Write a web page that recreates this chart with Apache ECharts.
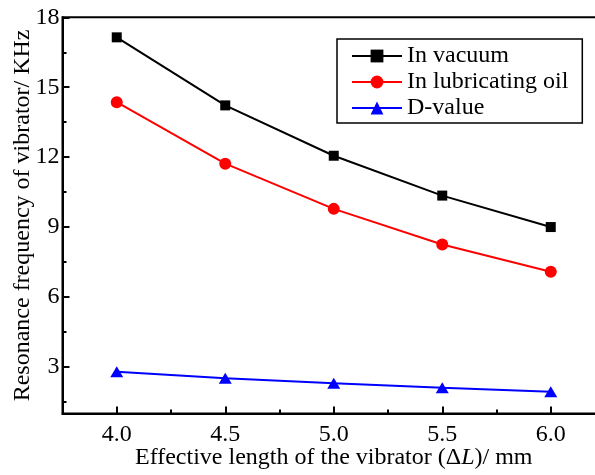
<!DOCTYPE html>
<html>
<head>
<meta charset="utf-8">
<script src="https://cdn.jsdelivr.net/npm/echarts@6/dist/echarts.min.js"></script>
<style>
html,body{margin:0;padding:0;background:#fff;}
#c{width:595px;height:475px;}
</style>
</head>
<body>
<div id="c"></div>
<script>
// ---- data ----
const lengths = [4.0, 4.5, 5.0, 5.5, 6.0];
const inVacuum = [17.14, 14.22, 12.06, 10.35, 9.0];
const inOil = [14.36, 11.72, 9.78, 8.25, 7.08];
const dValue = [2.79, 2.51, 2.3, 2.11, 1.93];
const seriesNames = ['In vacuum', 'In lubricating oil', 'D-value'];
const xTicks = [4.0, 4.5, 5.0, 5.5, 6.0];
const xMinorTicks = [4.25, 4.75, 5.25, 5.75];
const yTicks = [3, 6, 9, 12, 15, 18];
const yMinorTicks = [1.5, 4.5, 7.5, 10.5, 13.5, 16.5];
const xRange = [3.75, 6.25];
const yRange = [1, 18];

const FONT = 'Liberation Serif';
const chart = echarts.init(document.getElementById('c'), null, {renderer: 'canvas'});

function pairs(ys) { return lengths.map((x, i) => [x, ys[i]]); }

const axisLine = {show: true, lineStyle: {color: '#000', width: 2}};

chart.setOption({
  animation: false,
  backgroundColor: '#fff',
  grid: {
    left: 62.5, top: 17.3, right: -10, bottom: 61.5,
    containLabel: false, outerBoundsMode: 'none',
    show: true, borderColor: '#000', borderWidth: 2, backgroundColor: 'transparent'
  },
  legend: {
    orient: 'vertical',
    left: 337, top: 39,
    padding: [5, 14, 3, 14],
    itemGap: 2,
    itemWidth: 50,
    itemHeight: 16,
    borderColor: '#000', borderWidth: 1.5,
    textStyle: {fontFamily: FONT, fontSize: 24, color: '#000'},
    data: seriesNames
  },
  xAxis: [{
    type: 'value', min: xRange[0], max: xRange[1], position: 'bottom',
    axisLine: axisLine,
    splitLine: {show: false},
    axisTick: {show: true, inside: true, length: 7, customValues: xTicks, lineStyle: {color: '#000', width: 2}},
    axisLabel: {show: true, customValues: xTicks, margin: 9, formatter: v => v.toFixed(1),
      fontFamily: FONT, fontSize: 24, color: '#000'},
    name: 'Effective length of the vibrator ({n|Δ}{i|L})/ mm',
    nameLocation: 'middle', nameGap: 32, nameMoveOverlap: false,
    nameTextStyle: {fontFamily: FONT, fontSize: 24, color: '#000',
      rich: {n: {fontFamily: FONT, fontSize: 24, color: '#000'},
             i: {fontFamily: FONT, fontSize: 24, fontStyle: 'italic', color: '#000'}}}
  }, {
    type: 'value', min: xRange[0], max: xRange[1], position: 'bottom',
    axisLine: {show: false}, splitLine: {show: false},
    axisTick: {show: true, inside: true, length: 4, customValues: xMinorTicks, lineStyle: {color: '#000', width: 2}},
    axisLabel: {show: false}
  }],
  yAxis: [{
    type: 'value', min: yRange[0], max: yRange[1], position: 'left',
    axisLine: axisLine,
    splitLine: {show: false},
    axisTick: {show: true, inside: true, length: 7, customValues: yTicks, lineStyle: {color: '#000', width: 2}},
    axisLabel: {show: true, customValues: yTicks, margin: 3,
      fontFamily: FONT, fontSize: 24, color: '#000'},
    name: 'Resonance frequency of vibrator/ KHz',
    nameLocation: 'middle', nameGap: 28, nameRotate: 90, nameMoveOverlap: false,
    nameTextStyle: {fontFamily: FONT, fontSize: 24, color: '#000'}
  }, {
    type: 'value', min: yRange[0], max: yRange[1], position: 'left',
    axisLine: {show: false}, splitLine: {show: false},
    axisTick: {show: true, inside: true, length: 4, customValues: yMinorTicks, lineStyle: {color: '#000', width: 2}},
    axisLabel: {show: false}
  }],
  series: [{
    name: seriesNames[0], type: 'line', xAxisIndex: 0, yAxisIndex: 0,
    data: pairs(inVacuum),
    symbol: 'rect', symbolSize: 10,
    lineStyle: {color: '#000', width: 2},
    itemStyle: {color: '#000'}
  }, {
    name: seriesNames[1], type: 'line', xAxisIndex: 0, yAxisIndex: 0,
    data: pairs(inOil),
    symbol: 'circle', symbolSize: 12,
    lineStyle: {color: '#ff0000', width: 2},
    itemStyle: {color: '#ff0000'}
  }, {
    name: seriesNames[2], type: 'line', xAxisIndex: 0, yAxisIndex: 0,
    data: pairs(dValue),
    symbol: 'triangle', symbolSize: [13, 11],
    lineStyle: {color: '#0000ff', width: 2},
    itemStyle: {color: '#0000ff'}
  }]
});
</script>
</body>
</html>
